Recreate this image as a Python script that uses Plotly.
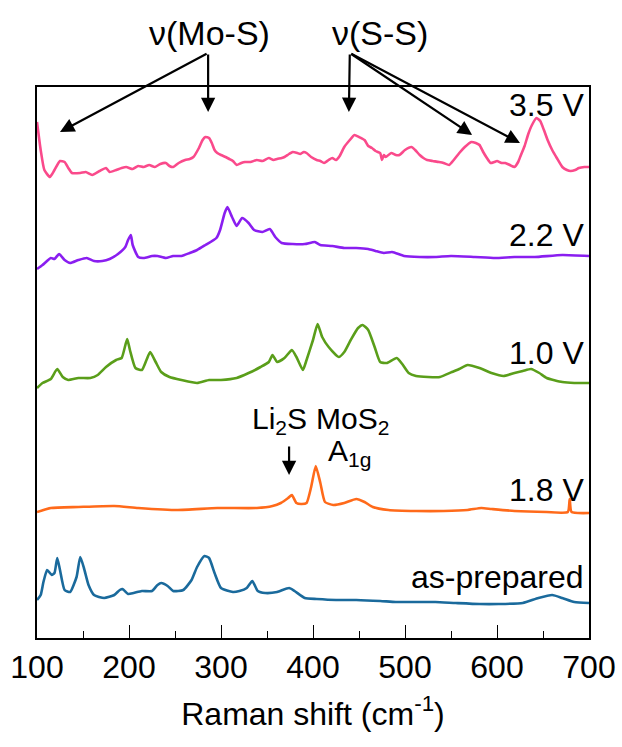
import plotly.graph_objects as go

# ---- data (Raman shift in cm-1, intensity in arbitrary units incl. stacking offset) ----
x_35 = [100,104,108,114,119,125,130,134,138,147,153,160,168,175,179,186,192,197,204,210,216,222,228,234,240,244,248,254,261,266,270,276,280,283,287,290,293,296,300,305,309,313,317,322,326,332,339,345,352,357,361,366,369,374,378,383,386,390,393,398,404,408,412,417,421,425,429,434,440,445,450,456,460,464,468,473,475,477,479,485,490,494,500,507,511,516,520,524,530,537,542,548,553,559,565,572,577,581,585,589,593,597,600,605,609,614,619,623,626,630,634,638,643,647,651,655,660,665,671,676,680,685,689,695,700]
y_35 = [516,488,468,461,468,477,476,470,465,465,466,463,467,470,466,468,470,471,469,472,471,473,471,474,475,472,471,475,478,479,481,490,498,501,500,495,488,485,483,481,479,477,473,475,476,476,478,477,480,478,479,480,481,484,486,485,484,486,485,481,478,477,475,478,480,478,482,491,498,503,501,498,492,490,487,485,478,483,481,485,483,483,488,491,488,483,480,478,477,476,475,473,478,485,491,496,495,493,486,480,475,476,477,475,475,473,471,476,483,492,504,513,520,517,508,498,488,480,471,468,467,468,470,471,471]

x_22 = [100,106,115,119,124,130,136,145,154,162,171,179,188,196,199,202,204,210,216,225,231,240,248,257,266,274,283,295,299,304,307,312,317,323,330,336,345,353,359,366,378,391,402,408,421,434,447,460,468,477,486,499,516,533,550,576,598,619,641,671,700]
y_22 = [369,373,380,379,384,378,375,378,380,377,377,379,384,391,398,403,393,381,380,382,382,380,382,382,385,388,393,400,408,425,431,421,412,420,415,408,406,409,401,395,394,394,396,393,392,390,390,389,387,385,386,382,381,381,382,381,380,381,381,383,382]

x_10 = [100,106,115,122,128,134,145,158,166,175,186,192,198,201,207,214,219,223,229,235,244,257,274,287,300,317,330,343,352,356,361,369,377,382,389,393,400,405,410,417,428,434,441,449,454,460,467,473,480,491,497,504,512,525,538,551,559,568,581,594,607,619,628,637,646,654,671,684,700]
y_10 = [250,255,259,269,261,258,260,260,263,271,278,280,299,288,270,268,278,286,276,266,261,258,255,258,258,260,265,271,276,283,276,280,288,281,268,278,298,314,301,291,281,286,298,310,313,308,291,276,275,280,274,265,262,261,261,266,269,273,270,265,262,265,267,269,265,260,256,255,255]

x_18 = [100,115,145,184,210,253,296,339,356,365,373,377,382,387,393,398,403,408,413,422,434,447,456,465,482,512,542,568,583,594,619,654,677,679,681,700]
y_18 = [126,130,131,132,130,128,130,130,132,135,140,143,135,134,135,151,172,155,136,133,135,139,136,131,128,127,127,128,130,129,127,126,126,139,126,125]

x_ap = [100,104,107,111,116,119,122,125,130,136,143,147,151,156,162,173,184,190,193,199,205,214,225,231,235,242,248,259,268,274,282,287,293,300,313,320,328,334,340,348,361,374,380,391,404,425,447,473,490,512,533,555,581,602,628,645,660,671,684,700]
y_ap = [38,43,56,68,63,65,80,68,48,46,61,81,70,53,43,40,43,48,49,44,45,47,47,53,55,52,47,48,58,71,82,80,65,50,46,47,50,57,47,45,46,50,47,40,39,38,38,37,36,36,36,35,34,34,35,40,43,40,36,35]

series_names = ["3.5 V", "2.2 V", "1.0 V", "1.8 V", "as-prepared"]
series_x = [x_35, x_22, x_10, x_18, x_ap]
series_y = [y_35, y_22, y_10, y_18, y_ap]
series_colors = ["#FA4A8B", "#8A1EF0", "#5A9E1A", "#FF6A1A", "#1A6A9C"]
label_y = [533, 403, 285, 148, 61]

x_ticks = [100, 200, 300, 400, 500, 600, 700]

FONT = "Liberation Sans, Arial, Helvetica, sans-serif"
FS = 32
Y_TOP = 551  # upper limit of the (hidden) intensity axis

fig = go.Figure()
for name, xs, ys, col in zip(series_names, series_x, series_y, series_colors):
    fig.add_trace(go.Scatter(x=xs, y=ys, mode="lines", name=name,
                             line=dict(color=col, width=2.6, shape="spline", smoothing=0.5),
                             showlegend=False, hoverinfo="skip"))

annotations = []
for name, ly in zip(series_names, label_y):
    annotations.append(dict(x=697, y=ly, xref="x", yref="y", text=name, showarrow=False,
                            xanchor="right", yanchor="middle",
                            font=dict(size=FS, color="black", family=FONT)))

# nu labels above the frame (paper-referenced so they are not hidden outside the axis range)
annotations.append(dict(x=288, y=605 / Y_TOP, xref="x", yref="paper", text="ν(Mo-S)", showarrow=False,
                        xanchor="center", yanchor="middle", font=dict(size=34, color="black", family=FONT)))
annotations.append(dict(x=473, y=605 / Y_TOP, xref="x", yref="paper", text="ν(S-S)", showarrow=False,
                        xanchor="center", yanchor="middle", font=dict(size=34, color="black", family=FONT)))

arrows = [
    (286, 585, 125, 506),
    (286, 585, 286, 526),
    (440, 585, 439, 526),
    (440, 585, 573, 503),
    (440, 585, 625, 495),
    (374, 193, 374, 163),
]
for ax_, ay_, tx, ty in arrows:
    annotations.append(dict(x=tx, y=ty, ax=ax_, ay=ay_, xref="x", yref="y", axref="x", ayref="y",
                            text="", showarrow=True, arrowhead=2, arrowsize=1.3, arrowwidth=2.2,
                            arrowcolor="black"))

annotations.append(dict(x=396, y=218, xref="x", yref="y", text="Li<sub>2</sub>S", showarrow=False,
                        xanchor="right", yanchor="middle", font=dict(size=30, color="black", family=FONT)))
annotations.append(dict(x=401, y=218, xref="x", yref="y", text="MoS<sub>2</sub>", showarrow=False,
                        xanchor="left", yanchor="middle", font=dict(size=30, color="black", family=FONT)))
annotations.append(dict(x=414, y=186, xref="x", yref="y", text="A<sub>1g</sub>", showarrow=False,
                        xanchor="left", yanchor="middle", font=dict(size=30, color="black", family=FONT)))

fig.update_layout(
    width=622, height=747,
    margin=dict(l=37, r=33, t=87, b=109, autoexpand=False),
    paper_bgcolor="white", plot_bgcolor="white",
    annotations=annotations,
    font=dict(family=FONT, color="black"),
)
fig.update_xaxes(
    range=[100, 700], tickmode="array", tickvals=x_ticks, ticktext=[str(t) for t in x_ticks],
    ticks="inside", ticklen=13, tickwidth=1.2, tickcolor="black",
    minor=dict(ticks="inside", ticklen=7, dtick=50, tickwidth=1.2, tickcolor="black"),
    showline=True, linecolor="black", linewidth=1.5, mirror=True,
    showgrid=False, zeroline=False, automargin=False,
    tickfont=dict(size=FS, family=FONT, color="black"),
    title=dict(text="Raman shift (cm<sup>-1</sup>)", font=dict(size=FS, family=FONT, color="black"), standoff=18),
)
fig.update_yaxes(
    range=[0, Y_TOP], showticklabels=False, ticks="", automargin=False,
    showline=True, linecolor="black", linewidth=1.5, mirror=True,
    showgrid=False, zeroline=False,
)

fig.write_html("out.html")
